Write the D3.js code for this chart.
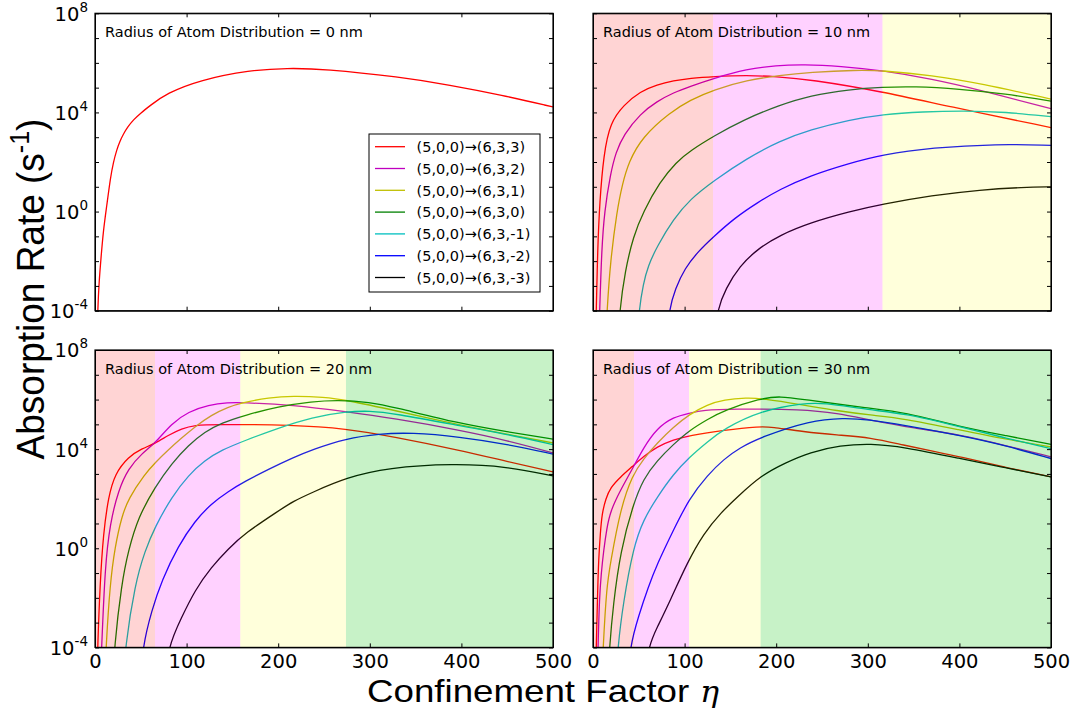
<!DOCTYPE html>
<html><head><meta charset="utf-8">
<script src="https://cdn.jsdelivr.net/npm/d3@7"></script>
<style>body{margin:0;background:#fff}svg{display:block}</style>
</head><body>
<svg id="chart" width="1075" height="714"></svg>
<script>
// ---------- data (eta, log10 of absorption rate in s^-1) ----------
const etaTicks = [0, 100, 200, 300, 400, 500];
const decadeTicks = [-4,-3,-2,-1,0,1,2,3,4,5,6,7,8];
const labelledDecades = [-4, 0, 4, 8];
const transitions = ["(5,0,0)\u2192(6,3,3)","(5,0,0)\u2192(6,3,2)","(5,0,0)\u2192(6,3,1)","(5,0,0)\u2192(6,3,0)","(5,0,0)\u2192(6,3,-1)","(5,0,0)\u2192(6,3,-2)","(5,0,0)\u2192(6,3,-3)"];
const radii = [0, 10, 20, 30];

// radius 0 nm
const nm0_m3 = [[2.2,-5.5],[2.9,-4],[4.5,-2.8],[6.5,-1.9],[9,-0.8],[12.7,0.2],[17,1.4],[20,1.98],[23.7,2.49],[27,2.82],[31,3.13],[36,3.43],[41.8,3.7],[50,3.98],[60,4.27],[78,4.77],[114.6,5.31],[169,5.71],[210,5.79],[250,5.76],[333,5.43],[387,5.11],[444,4.7],[500,4.22]];

// radius 10 nm
const nm10_m3 = [[2.5,-5.5],[3.6,-4],[5,-1.6],[7.3,0.4],[11.6,2.3],[18.9,3.6],[33.5,4.3],[51.7,4.85],[70,5.12],[88,5.28],[106,5.38],[132,5.45],[168,5.5],[200,5.45],[237,5.33],[316,4.84],[386,4.26],[500,3.39]];
const nm10_m2 = [[6,-5.5],[7.3,-4],[9.5,-1.5],[12.5,0],[18.9,1.5],[25,2.4],[33.5,3.1],[51.7,3.95],[70,4.45],[88,4.8],[106,5.05],[132,5.38],[168,5.75],[200,5.9],[230,5.94],[270,5.87],[316,5.69],[370,5.35],[423,4.9],[500,4.15]];
const nm10_m1 = [[13.5,-5.5],[15.3,-4],[19,-2],[26,0],[32,1.1],[39,2],[53.5,3],[84,4],[106,4.5],[132,4.92],[168,5.3],[204,5.5],[237,5.62],[288,5.71],[316,5.69],[370,5.5],[423,5.17],[500,4.54]];
const nm10_m0 = [[27,-5.5],[29,-4],[35,-2.4],[44,-1.0],[55,0],[73,1.2],[91,2.0],[106,2.45],[132,3.05],[164,3.7],[204,4.3],[237,4.68],[280,4.93],[316,5.02],[350,5.05],[400,4.95],[450,4.75],[500,4.46]];
const nm10_mm1 = [[48,-5.5],[50,-4],[55,-2.9],[60,-2.2],[70,-1.4],[88,-0.3],[106,0.5],[132,1.25],[168,2.15],[204,2.85],[237,3.3],[280,3.7],[316,3.92],[360,4.03],[405,4.07],[450,4.02],[500,3.83]];
const nm10_mm2 = [[80,-5.5],[82.6,-4],[90,-3.1],[100,-2.3],[115,-1.6],[132,-1.0],[155,-0.25],[179,0.35],[204,0.9],[237,1.45],[280,1.95],[316,2.3],[370,2.58],[441,2.73],[500,2.67]];
const nm10_mm3 = [[132,-5.5],[135,-4],[145,-3.1],[160,-2.2],[180,-1.5],[204,-0.95],[237,-0.45],[280,0.0],[316,0.3],[370,0.65],[423,0.88],[470,0.98],[500,1.0]];

// radius 20 nm
const nm20_m3 = [[2,-5.5],[2.9,-4],[5.5,-1.43],[9.1,0.59],[14.6,2.07],[21.8,3.01],[36.4,3.69],[51,4.02],[65.5,4.22],[80,4.56],[94.6,4.83],[109,4.97],[130,5.0],[216,4.98],[274,4.83],[326,4.5],[398,3.96],[450,3.5],[500,3.08]];
const nm20_m2 = [[5.5,-5.5],[7.3,-4],[10.9,-0.76],[16.4,1.0],[25.5,2.34],[36.4,3.22],[51,3.82],[65.5,4.23],[83.7,5.04],[102,5.51],[124,5.78],[145.6,5.88],[160,5.88],[216,5.78],[274,5.51],[326,5.24],[398,4.77],[450,4.35],[500,3.85]];
const nm20_m1 = [[10.5,-5.5],[12,-4],[16.4,-1.43],[21.8,0.05],[29,1.26],[36.4,2.0],[54.6,3.0],[65.5,3.45],[80,3.97],[94.6,4.45],[109,4.9],[127,5.38],[145.6,5.7],[160,5.87],[190,6.08],[216,6.15],[250,6.1],[274,5.98],[326,5.57],[398,4.97],[450,4.6],[500,4.25]];
const nm20_m0 = [[19.5,-5.5],[21,-4],[29,-1.43],[36.4,-0.09],[47.3,1.26],[65.5,2.47],[83.7,3.42],[102,4.16],[120,4.7],[138,5.06],[163.8,5.37],[200,5.72],[237,5.92],[265,5.98],[300,5.9],[326,5.7],[398,5.03],[450,4.7],[500,4.4]];
const nm20_mm1 = [[31,-5.5],[32.8,-4],[43.7,-1.43],[54.6,-0.09],[65.5,0.86],[83.7,2.07],[102,2.95],[120,3.55],[138,3.96],[163.8,4.35],[200,4.85],[237,5.29],[274,5.51],[300,5.55],[326,5.44],[398,4.95],[450,4.6],[500,4.18]];
const nm20_mm2 = [[50,-5.5],[51.7,-4],[61.9,-2.51],[72.8,-1.3],[91,0.1],[109,1.1],[127,1.8],[145.6,2.3],[163.8,2.7],[190,3.2],[216.5,3.66],[237,3.98],[274,4.43],[310,4.62],[345,4.67],[398,4.5],[450,4.2],[500,3.8]];
const nm20_mm3 = [[77,-5.5],[79.3,-4],[94.6,-2.78],[109,-1.7],[127,-0.76],[145.6,-0.02],[163.8,0.61],[200,1.5],[216.5,1.9],[237,2.25],[274,2.85],[320,3.25],[391,3.42],[450,3.3],[500,2.92]];

// radius 30 nm
const nm30_m3 = [[2.5,-5.5],[3.6,-4],[5,-1.8],[6.2,-0.4],[8,0.6],[9.8,1.4],[14,2.0],[19,2.45],[30,2.88],[43,3.3],[55,3.7],[70,4.1],[88,4.38],[105,4.55],[143,4.77],[183,4.92],[193.6,4.9],[230,4.7],[266,4.57],[303,4.47],[339,4.16],[375,3.89],[401,3.69],[448,3.28],[500,2.88]];
const nm30_m2 = [[4.5,-5.5],[5.5,-4],[7,-2],[9,-1.0],[11.6,-0.1],[15,0.8],[19,1.5],[30,2.35],[43,3.2],[55,4.05],[70,4.85],[88,5.3],[105,5.45],[121,5.58],[150,5.62],[230,5.61],[266,5.45],[303,5.17],[350,4.85],[401,4.58],[450,4.15],[500,3.69]];
const nm30_m1 = [[9.5,-5.5],[11,-4],[15,-1.5],[19,-0.6],[30,1.6],[43,2.95],[55,3.6],[70,4.25],[88,4.9],[105,5.4],[125,5.8],[143,6.0],[168,6.07],[184,6.05],[230,5.78],[266,5.55],[303,5.37],[339,5.24],[401,4.77],[450,4.4],[500,4.09]];
const nm30_m0 = [[16,-5.5],[18,-4],[22,-2.3],[30,-0.1],[44,1.79],[55,2.8],[70,3.54],[88,4.2],[105,4.75],[125,5.2],[143,5.56],[183,6.05],[204.5,6.14],[230,6.0],[303,5.64],[339,5.5],[401,4.9],[450,4.55],[500,4.19]];
const nm30_mm1 = [[25,-5.5],[27,-4],[33,-2.2],[44,0.03],[55,1.15],[70,2.06],[88,3.0],[105,3.67],[125,4.3],[143,4.82],[183,5.56],[230,5.85],[250,5.88],[303,5.57],[339,5.45],[401,4.9],[450,4.45],[500,4.02]];
const nm30_mm2 = [[38,-5.5],[40,-4],[50,-2.7],[60,-1.6],[70,-0.64],[88,0.75],[105,2.0],[125,2.95],[143,3.6],[160,4.05],[183,4.48],[237,5.16],[274,5.26],[300,5.2],[339,4.97],[401,4.55],[450,4.15],[500,3.62]];
const nm30_mm3 = [[57,-5.5],[59.7,-4],[70,-3.2],[84.4,-2.1],[102.6,-0.6],[120.8,0.6],[140,1.45],[157,2.05],[183.8,2.95],[210,3.45],[237,3.88],[270,4.15],[303,4.23],[339,4.09],[401,3.62],[450,3.25],[500,2.88]];

// shaded eta regions (band edges) per panel
const bands0 = [];
const bands10 = [0, 131, 316, 500];
const bands20 = [0, 65.5, 158.6, 274, 500];
const bands30 = [0, 44.8, 104.8, 183, 500];

// ---------- styles ----------
const lineColors = ["#ff0000","#bf00bf","#bfbf00","#008000","#00bfbf","#0000ff","#000000"];
const bandFills = [["#ff0000",0.17],["#ff00ff",0.18],["#ffff00",0.14],["#00c400",0.22]];

const panels = [
  {r: radii[0], series: [nm0_m3], bands: bands0, pos:[95,13.3], xl:false, yl:true, legend:true},
  {r: radii[1], series: [nm10_m3,nm10_m2,nm10_m1,nm10_m0,nm10_mm1,nm10_mm2,nm10_mm3], bands: bands10, pos:[593,13.3], xl:false, yl:false},
  {r: radii[2], series: [nm20_m3,nm20_m2,nm20_m1,nm20_m0,nm20_mm1,nm20_mm2,nm20_mm3], bands: bands20, pos:[95,350], xl:true, yl:true},
  {r: radii[3], series: [nm30_m3,nm30_m2,nm30_m1,nm30_m0,nm30_mm1,nm30_mm2,nm30_mm3], bands: bands30, pos:[593,350], xl:true, yl:false}
];

const W = 458, H = 297.4;
const svg = d3.select("#chart");
const FONT = "'DejaVu Sans', sans-serif";
const SANS = "'Liberation Sans', Arial, sans-serif";

panels.forEach((p, pi) => {
  const g = svg.append("g").attr("transform", `translate(${p.pos[0]},${p.pos[1]})`);
  const x = d3.scaleLinear().domain([0, 500]).range([0, W]);
  const y = d3.scaleLog().domain([1e-4, 1e8]).range([H, 0]);

  const clipId = "clip" + pi;
  g.append("clipPath").attr("id", clipId).append("rect").attr("width", W).attr("height", H);
  const plot = g.append("g").attr("clip-path", `url(#${clipId})`);

  const line = d3.line().x(d => x(d[0])).y(d => y(Math.pow(10, d[1]))).curve(d3.curveBasis);
  p.series.forEach((s, si) => {
    plot.append("path").datum(s).attr("d", line)
      .attr("fill", "none").attr("stroke", lineColors[si]).attr("stroke-width", 1.3);
  });

  g.append("text").attr("x", 10).attr("y", 24)
    .attr("font-family", FONT).attr("font-size", 14.5).attr("fill", "#000")
    .text(`Radius of Atom Distribution = ${p.r} nm`);

  for (let b = 0; b + 1 < p.bands.length; b++) {
    plot.append("rect")
      .attr("x", x(p.bands[b])).attr("y", 0)
      .attr("width", x(p.bands[b + 1]) - x(p.bands[b])).attr("height", H)
      .attr("fill", bandFills[b][0]).attr("fill-opacity", bandFills[b][1]);
  }

  // axes with inward ticks
  const axB = g.append("g").attr("transform", `translate(0,${H})`)
    .call(d3.axisBottom(x).tickValues(etaTicks).tickSizeInner(-4).tickSizeOuter(0).tickPadding(7)
      .tickFormat(p.xl ? d3.format("d") : () => ""));
  const axT = g.append("g").call(d3.axisTop(x).tickValues(etaTicks).tickSizeInner(-4).tickSizeOuter(0).tickFormat(() => ""));
  const axL = g.append("g").call(d3.axisLeft(y).tickValues(decadeTicks.map(e => Math.pow(10, e))).tickSizeInner(-4).tickSizeOuter(0).tickFormat(() => ""));
  const axR = g.append("g").attr("transform", `translate(${W},0)`)
    .call(d3.axisRight(y).tickValues(decadeTicks.map(e => Math.pow(10, e))).tickSizeInner(-4).tickSizeOuter(0).tickFormat(() => ""));
  [axB, axT, axL, axR].forEach(a => {
    a.selectAll("path,line").attr("stroke", "#000");
    a.selectAll("text").attr("font-family", FONT).attr("font-size", 19.5).attr("fill", "#000");
  });
  g.append("rect").attr("width", W).attr("height", H).attr("fill", "none").attr("stroke", "#000").attr("stroke-width", 1.2);

  if (p.yl) {
    labelledDecades.forEach(e => {
      const t = g.append("text").attr("x", -7).attr("y", y(Math.pow(10, e)) + 7.4)
        .attr("text-anchor", "end").attr("font-family", FONT).attr("fill", "#000");
      t.append("tspan").attr("font-size", 19.5).text("10");
      t.append("tspan").attr("font-size", 13.5).attr("dy", -9).text(String(e));
    });
  }

  if (p.legend) {
    const lg = g.append("g").attr("transform", `translate(${369 - p.pos[0]},${134 - p.pos[1]})`);
    lg.append("rect").attr("width", 171).attr("height", 158).attr("fill", "#fff").attr("stroke", "#000").attr("stroke-width", 1);
    transitions.forEach((lab, i) => {
      const cy = 12.7 + i * 21.8;
      lg.append("line").attr("x1", 6).attr("x2", 36).attr("y1", cy).attr("y2", cy)
        .attr("stroke", lineColors[i]).attr("stroke-width", 1.3);
      lg.append("text").attr("x", 47.5).attr("y", cy + 5.2)
        .attr("font-family", FONT).attr("font-size", 14.5).attr("fill", "#000").text(lab);
    });
  }
});

// axis titles (slightly widened horizontally like the reference)
const yt = svg.append("text").attr("transform", "translate(44,289) scale(1.07,1) rotate(-90)")
  .attr("text-anchor", "middle").attr("font-family", SANS)
  .attr("font-size", 37).attr("fill", "#000");
yt.append("tspan").text("Absorption Rate (s");
yt.append("tspan").attr("font-size", 25).attr("dy", -14).text("-1");
yt.append("tspan").attr("dy", 14).text(")");

svg.append("text").attr("transform", "translate(367,702) scale(1.147,1)")
  .attr("font-family", SANS).attr("font-size", 32).attr("fill", "#000")
  .text("Confinement Factor");
svg.append("text").attr("transform", "translate(700,702) scale(1.1,1)")
  .attr("font-family", "'DejaVu Serif', serif").attr("font-style", "italic").attr("font-size", 29).attr("fill", "#000")
  .text("\u03b7");
</script>
</body></html>
